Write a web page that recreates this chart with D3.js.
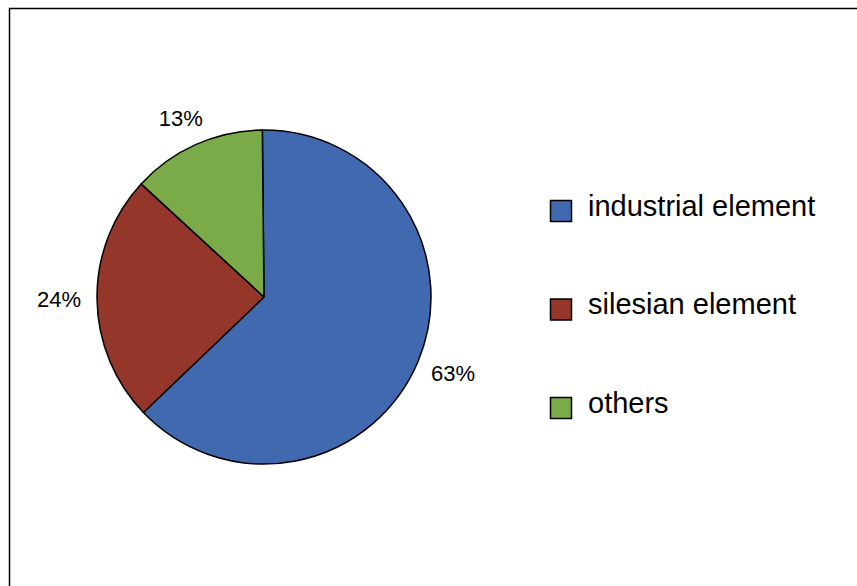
<!DOCTYPE html>
<html>
<head>
<meta charset="utf-8">
<script src="https://cdn.jsdelivr.net/npm/d3@7"></script>
<style>
  html, body { margin: 0; padding: 0; background: #fff; }
  svg { display: block; font-family: "Liberation Sans", Arial, sans-serif; }
</style>
</head>
<body>
<svg id="chart" width="857" height="586"></svg>
<script>
// Share of each element (percent)
const categories = ["industrial element", "silesian element", "others"];
const values = [63, 24, 13];
const colors = ["#4169AF", "#94362A", "#7AAB48"];

const svg = d3.select("#chart");
const W = 857, H = 586;

// Chart frame (top and left edges visible)
svg.append("path")
  .attr("d", `M9.5,${H} L9.5,8.5 L${W},8.5`)
  .attr("fill", "none")
  .attr("stroke", "#000")
  .attr("stroke-width", 1.5);

const cx = 264, cy = 297, r = 167;
const rot = -0.01;

const pie = d3.pie().sort(null).value(d => d)
  .startAngle(rot).endAngle(2 * Math.PI + rot);
const arcs = pie(values);

const arc = d3.arc().innerRadius(0).outerRadius(r);

const g = svg.append("g").attr("transform", `translate(${cx},${cy})`);

g.selectAll("path.slice")
  .data(arcs)
  .join("path")
  .attr("class", "slice")
  .attr("d", arc)
  .attr("fill", (d, i) => colors[i])
  .attr("stroke", "#000")
  .attr("stroke-width", 1.5)
  .attr("stroke-linejoin", "round");

// Percent labels sit just outside the rim, pushed away by half their size
const total = d3.sum(values);
const labelR = r + 16, halfW = 22, halfH = 13;
g.selectAll("text.pct")
  .data(arcs)
  .join("text")
  .attr("class", "pct")
  .attr("transform", d => {
    const a = (d.startAngle + d.endAngle) / 2;
    const sx = Math.sin(a), sy = -Math.cos(a);
    const x = sx * labelR + sx * halfW;
    const y = sy * labelR + sy * halfH;
    return `translate(${x},${y})`;
  })
  .attr("text-anchor", "middle")
  .attr("dy", "0.35em")
  .attr("font-size", 22)
  .attr("fill", "#000")
  .text(d => Math.round(d.data / total * 100) + "%");

// Legend
const legendY = d3.scalePoint().domain(categories).range([211, 408]);
const items = svg.append("g").selectAll("g.item")
  .data(categories)
  .join("g")
  .attr("class", "item")
  .attr("transform", d => `translate(550,${legendY(d)})`);

items.append("rect")
  .attr("x", 0.5).attr("y", -10.5)
  .attr("width", 21).attr("height", 21)
  .attr("fill", (d, i) => colors[i])
  .attr("stroke", "#000")
  .attr("stroke-width", 1.5);

items.append("text")
  .attr("x", 38)
  .attr("y", 4.5)
  .attr("font-size", 29)
  .attr("fill", "#000")
  .text(d => d);
</script>
</body>
</html>
